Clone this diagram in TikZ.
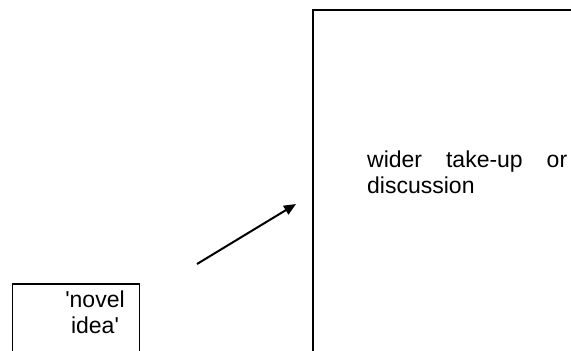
\documentclass[tikz,border=0pt]{standalone}
\usepackage{fontspec}
\setmainfont{Liberation Sans}
\usetikzlibrary{arrows.meta}
\tikzset{
  frame/.style={draw=black, line width=1.5pt, inner sep=0pt, outer sep=0pt, anchor=north west},
  label text/.style={inner sep=0pt, font=\fontsize{23}{26}\selectfont},
  link/.style={line width=2pt, -{Triangle[length=12pt,width=10pt]}}
}
\begin{document}
\begin{tikzpicture}[x=1pt,y=-1pt]
\useasboundingbox (0,0) rectangle (571,351);
\clip (0,0) rectangle (571,351);
\node[frame, minimum width=127pt, minimum height=90pt] (novelbox) at (12.5,284) {};
\node[frame, minimum width=300pt, minimum height=400pt] (widerbox) at (313,10) {};
\node[label text, align=center, anchor=north] (noveltext) at (95,291)
  {\textquotesingle novel\\idea\textquotesingle};
\node[label text, align=left, anchor=north west] (widertext) at (367,151)
  {\makebox[200pt][s]{wider take-up or}\\discussion};
\coordinate (from) at (197,264);
\coordinate (to) at (296,204);
\draw[link] (from) -- (to);
\end{tikzpicture}
\end{document}
